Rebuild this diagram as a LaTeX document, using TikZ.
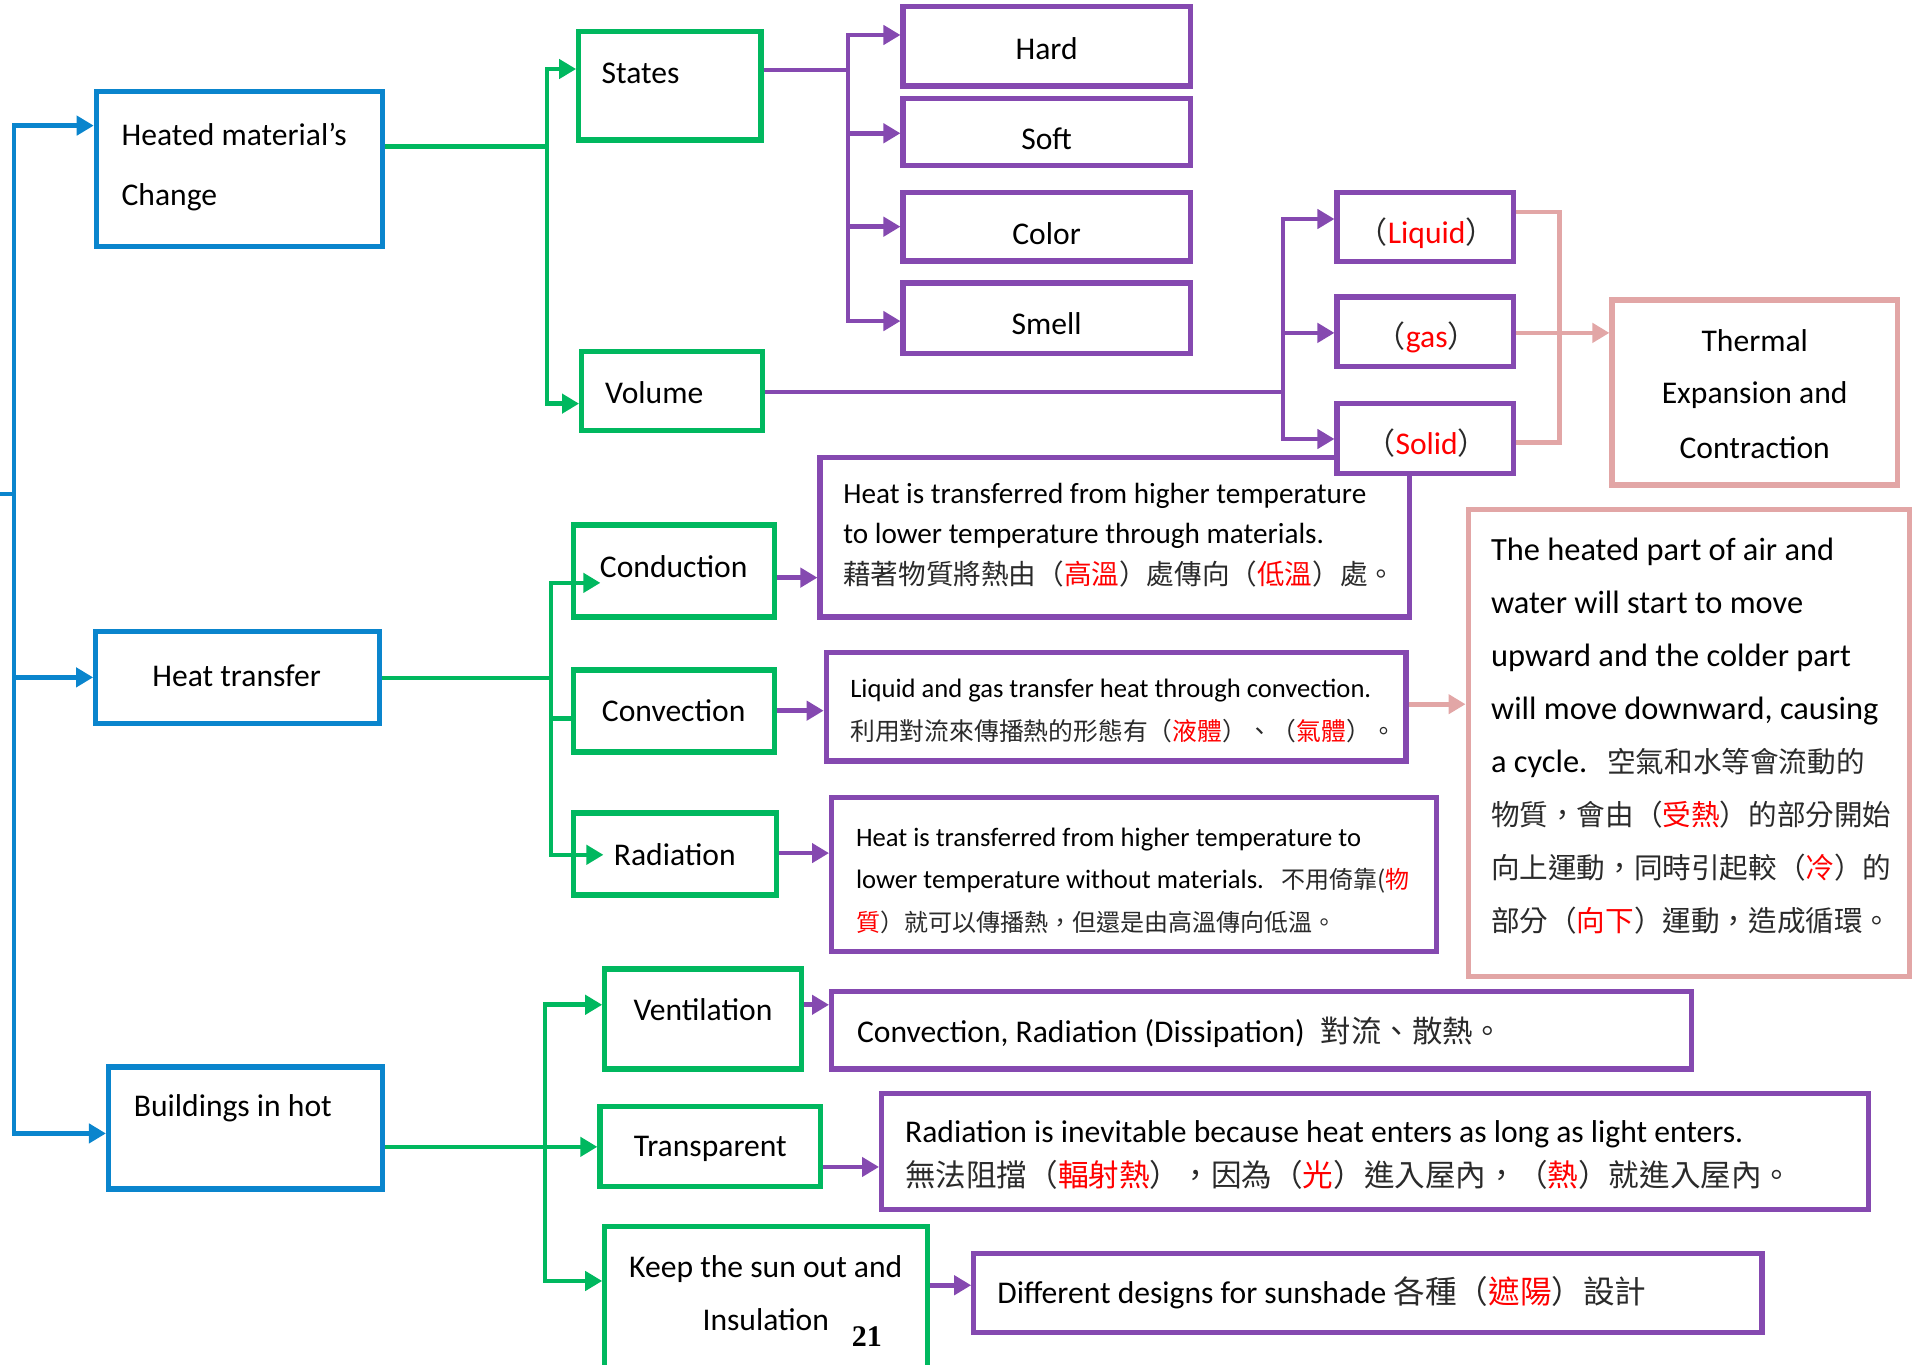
\documentclass[tikz,border=0pt]{standalone}
\usepackage{fontspec}
\setmainfont{Carlito}
\newfontfamily\cjkf{Noto Sans CJK TC}
\newfontfamily\tnrf{Liberation Serif}
\usetikzlibrary{arrows.meta,calc}
\definecolor{bC}{HTML}{0A85CD}
\definecolor{gC}{HTML}{00B85F}
\definecolor{pC}{HTML}{8549B0}
\definecolor{kC}{HTML}{E2A6A6}
\definecolor{zhC}{HTML}{2A2A2A}
\newcommand\upx{0.6097pt}
\newcommand\rd[1]{\textcolor{red}{#1}}
\newcommand\zh[2]{{\fontsize{#1}{#1}\cjkf\color{zhC}#2}}
\newcommand\bx[6]{\node[#2, minimum width={(#5-#3)*0.6097pt}, minimum height={(#6-#4)*0.6097pt}] (#1) at ({(#3+#5)/2},{(#4+#6)/2}) {};}
\begin{document}
\begin{tikzpicture}[x=0.6097pt, y=-0.6097pt,
  box/.style={draw, line width=2.6pt, fill=white, inner sep=0pt},
  bbox/.style={box, draw=bC},
  gbox/.style={box, draw=gC},
  pbox/.style={box, draw=pC},
  kbox/.style={box, draw=kC},
  con/.style={line width=2.3pt},
  bl/.style={con, draw=bC},
  gl/.style={con, draw=gC},
  pl/.style={con, draw=pC},
  kl/.style={con, draw=kC},
  arr/.style={-{Triangle[length=8.5pt,width=9.5pt]}},
  t16/.style={inner sep=0pt, font=\fontsize{15.8pt}{19pt}\selectfont},
  t146/.style={inner sep=0pt, font=\fontsize{14.6pt}{18pt}\selectfont},
  t133/.style={inner sep=0pt, font=\fontsize{13.3pt}{16pt}\selectfont},
  t162/.style={inner sep=0pt, font=\fontsize{16.2pt}{19pt}\selectfont},
  lw/.style={anchor=base west},
  lc/.style={anchor=base}]
\useasboundingbox (0,0) rectangle (1568,1119);

% ---------- boxes ----------
\bx{heated}{bbox}{79}{75}{314}{202}
\bx{htrans}{bbox}{78.5}{518}{311}{593}
\bx{bldg}{bbox}{89}{875}{314}{975}

\bx{states}{gbox}{474.6}{26}{624}{114.8}
\bx{volume}{gbox}{477}{288}{625}{353}
\bx{cond}{gbox}{470}{430.6}{635}{506}
\bx{conv}{gbox}{470}{549.5}{635}{616.7}
\bx{rad}{gbox}{470}{666.7}{636.8}{734}
\bx{vent}{gbox}{496}{794.6}{657}{876.7}
\bx{transp}{gbox}{492}{907.5}{673}{973}
\bx{keep}{gbox}{496}{1006}{760.8}{1140}

\bx{hard}{pbox}{740.6}{5.5}{976}{70.5}
\bx{soft}{pbox}{740.6}{81}{976}{136}
\bx{color}{pbox}{740.6}{157.7}{976}{214}
\bx{smell}{pbox}{740.6}{232}{976}{289.6}
\bx{conddesc}{pbox}{672.5}{375.5}{1156}{506}
\bx{liquid}{pbox}{1096.5}{157.7}{1241}{214.6}
\bx{gasb}{pbox}{1096.5}{243.6}{1241}{300.7}
\bx{solid}{pbox}{1096.5}{330.7}{1241}{388}
\bx{convdesc}{pbox}{677.6}{534.8}{1153}{624}
\bx{raddesc}{pbox}{682}{654}{1178}{780}
\bx{ventdesc}{pbox}{682}{813}{1387}{876.7}
\bx{transdesc}{pbox}{723}{897}{1532.6}{991.6}
\bx{keepdesc}{pbox}{798.6}{1028}{1445}{1093}

\bx{thermal}{kbox}{1322}{246}{1556}{397.7}
\bx{cycle}{kbox}{1204}{418}{1566}{801}

% ---------- connectors ----------
% blue root
\coordinate (bstub) at (0,405);
\coordinate (bj) at (11.5,405);
\coordinate (yb1) at (0,103);
\coordinate (yb3) at (0,929.5);
\draw[bl] (bstub) -- (bj);
\draw[bl,arr] (bj) |- (heated.west |- yb1);
\draw[bl,arr] (bj) |- (htrans.west);
\draw[bl,arr] (bj) |- (bldg.west |- yb3);

% green 1
\coordinate (gj1) at (448.5,120);
\coordinate (yg1) at (0,56.6);
\coordinate (yg2) at (0,331);
\draw[gl] (heated.east |- gj1) -- (gj1);
\draw[gl,arr] (gj1) |- (states.west |- yg1);
\draw[gl,arr] (gj1) |- (volume.west |- yg2);

% green 2
\coordinate (gj2) at (452,556);
\coordinate (yg3) at (0,478);
\coordinate (yg4) at (0,589);
\coordinate (yg5) at (0,701);
\draw[gl] (htrans.east |- gj2) -- (gj2);
\draw[gl,arr] (gj2) |- ($(cond.west |- yg3)+(24.5,0)$);
\draw[gl] (gj2) |- (conv.west |- yg4);
\draw[gl,arr] (gj2) |- ($(rad.west |- yg5)+(27,0)$);

% green 3
\coordinate (gj3) at (447,940.5);
\coordinate (yg6) at (0,824);
\coordinate (yg8) at (0,1050.5);
\draw[gl] (bldg.east |- gj3) -- (gj3);
\draw[gl,arr] (gj3) |- (vent.west |- yg6);
\draw[gl,arr] (gj3) -- (transp.west |- gj3);
\draw[gl,arr] (gj3) |- (keep.west |- yg8);

% purple 1
\coordinate (pj1) at (695.5,57.4);
\coordinate (yp1) at (0,28.7);
\coordinate (yp2) at (0,109.3);
\coordinate (yp3) at (0,185.9);
\coordinate (yp4) at (0,263.3);
\draw[pl] (states.east |- pj1) -- (pj1);
\draw[pl,arr] (pj1) |- (hard.west |- yp1);
\draw[pl,arr] (pj1) |- (soft.west |- yp2);
\draw[pl,arr] (pj1) |- (color.west |- yp3);
\draw[pl,arr] (pj1) |- (smell.west |- yp4);

% purple 2
\coordinate (pj2) at (1052,321.6);
\coordinate (yq1) at (0,179.6);
\coordinate (yq2) at (0,273);
\coordinate (yq3) at (0,360);
\draw[pl] (volume.east |- pj2) -- (pj2);
\draw[pl,arr] (pj2) |- (liquid.west |- yq1);
\draw[pl,arr] (pj2) |- (gasb.west |- yq2);
\draw[pl,arr] (pj2) |- (solid.west |- yq3);

% purple description arrows
\coordinate (yd1) at (0,473.7);
\coordinate (yd2) at (0,582.8);
\coordinate (yd3) at (0,699.6);
\coordinate (yd4) at (0,824);
\coordinate (yd5) at (0,957);
\coordinate (yd6) at (0,1054);
\draw[pl,arr] (cond.east |- yd1) -- (conddesc.west |- yd1);
\draw[pl,arr] (conv.east |- yd2) -- (convdesc.west |- yd2);
\draw[pl,arr] (rad.east |- yd3) -- (raddesc.west |- yd3);
\draw[pl,arr] (vent.east |- yd4) -- (ventdesc.west |- yd4);
\draw[pl,arr] (transp.east |- yd5) -- (transdesc.west |- yd5);
\draw[pl,arr] (keep.east |- yd6) -- (keepdesc.west |- yd6);

% pink
\coordinate (kc) at (1279,363);
\coordinate (yk1) at (0,174);
\coordinate (yk2) at (0,273);
\coordinate (yk3) at (0,577.5);
\draw[kl] (liquid.east |- yk1) -| (kc) -- (solid.east |- kc);
\draw[kl,arr] (gasb.east |- yk2) -- (thermal.west |- yk2);
\draw[kl,arr] (convdesc.east |- yk3) -- (cycle.west |- yk3);

% ---------- texts ----------
\node[t16,lw] (heated-a) at (99.4,119.4) {Heated material’s};
\node[t16,lw] (heated-b) at (99.4,168.6) {Change};
\node[t16,lw] (states-t) at (493,68.8) {States};
\node[t16,lw] (volume-t) at (496,331.3) {Volume};
\node[t16,lc] (hard-t) at (858.3,48.4) {Hard};
\node[t16,lc] (soft-t) at (858.3,123) {Soft};
\node[t16,lc] (color-t) at (858.3,200.1) {Color};
\node[t16,lc] (smell-t) at (858.3,274.7) {Smell};
\node[t16,lc] (liquid-t) at (1170,199.5) {\zh{15pt}{（}\rd{Liquid}\zh{15pt}{）}};
\node[t16,lc] (gas-t) at (1170,285) {\zh{15pt}{（}\rd{gas}\zh{15pt}{）}};
\node[t16,lc] (solid-t) at (1170,372.5) {\zh{15pt}{（}\rd{Solid}\zh{15pt}{）}};
\node[t16,lc] (thermal-a) at (1439,288.4) {Thermal};
\node[t16,lc] (thermal-b) at (1439,331.3) {Expansion and};
\node[t16,lc] (thermal-c) at (1439,375.9) {Contraction};

\node[t16,lc] (htrans-t) at (194,563) {Heat transfer};
\node[t16,lc] (cond-t) at (552.5,473.5) {Conduction};
\node[t16,lc] (conv-t) at (552.5,591.8) {Convection};
\node[t16,lc] (rad-t) at (553.4,709.4) {Radiation};

\node[t146,lw] (conddesc-a) at (691.3,413) {Heat is transferred from higher temperature};
\node[t146,lw] (conddesc-b) at (691.3,446) {to lower temperature through materials.};
\node[t146,lw] (conddesc-c) at (691.3,479.5) {\zh{13.8pt}{藉著物質將熱由（\rd{高溫}）處傳向（\rd{低溫}）處。}};

\node[t133,lw] (convdesc-a) at (697,571.6) {Liquid and gas transfer heat through convection.};
\node[t133,lw] (convdesc-b) at (697,607) {\zh{12.4pt}{利用對流來傳播熱的形態有（\rd{液體}）、（\rd{氣體}）。}};

\node[t133,lw] (raddesc-a) at (701.7,694) {Heat is transferred from higher temperature to};
\node[t133,lw] (raddesc-b) at (701.7,728.8) {lower temperature without materials.\hspace{9pt}\zh{12pt}{不用倚靠(\rd{物}}};
\node[t133,lw] (raddesc-c) at (701.7,764) {\zh{12pt}{\rd{質}）就可以傳播熱，但還是由高溫傳向低溫。}};

\node[t162,lw] (cycle-1) at (1222.5,459.8) {The heated part of air and};
\node[t162,lw] (cycle-2) at (1222.5,503.2) {water will start to move};
\node[t162,lw] (cycle-3) at (1222.5,546.6) {upward and the colder part};
\node[t162,lw] (cycle-4) at (1222.5,590) {will move downward, causing};
\node[t162,lw] (cycle-5) at (1222.5,633.4) {a cycle.\hspace{10pt}\zh{14.3pt}{空氣和水等會流動的}};
\node[t162,lw] (cycle-6) at (1222.5,676.8) {\zh{14.3pt}{物質，會由（\rd{受熱}）的部分開始}};
\node[t162,lw] (cycle-7) at (1222.5,720.2) {\zh{14.3pt}{向上運動，同時引起較（\rd{冷}）的}};
\node[t162,lw] (cycle-8) at (1222.5,763.6) {\zh{14.3pt}{部分（\rd{向下}）運動，造成循環。}};

\node[t16,lw] (bldg-t) at (109.5,915.7) {Buildings in hot};
\node[t16,lc] (vent-t) at (576.5,837) {Ventilation};
\node[t16,lc] (transp-t) at (582.5,948.5) {Transparent};
\node[t16,lc] (keep-a) at (628,1047.5) {Keep the sun out and};
\node[t16,lc] (keep-b) at (628,1090.7) {Insulation};
\node[inner sep=0pt,lc,font=\fontsize{15pt}{18pt}\tnrf\bfseries] (pagenum) at (711,1104.4) {21};

\node[t16,lw] (ventdesc-t) at (702.6,854.7) {Convection, Radiation (Dissipation)\hspace{8pt}\zh{15.2pt}{對流、散熱。}};
\node[t16,lw] (transdesc-a) at (742,936.7) {Radiation is inevitable because heat enters as long as light enters.};
\node[t16,lw] (transdesc-b) at (742,973) {\zh{15.3pt}{無法阻擋（\rd{輻射熱}），因為（\rd{光}）進入屋內，（\rd{熱}）就進入屋內。}};
\node[t16,lw] (keepdesc-t) at (817.6,1069.3) {Different designs for sunshade \zh{15.8pt}{各種（\rd{遮陽}）設計}};
\end{tikzpicture}
\end{document}
